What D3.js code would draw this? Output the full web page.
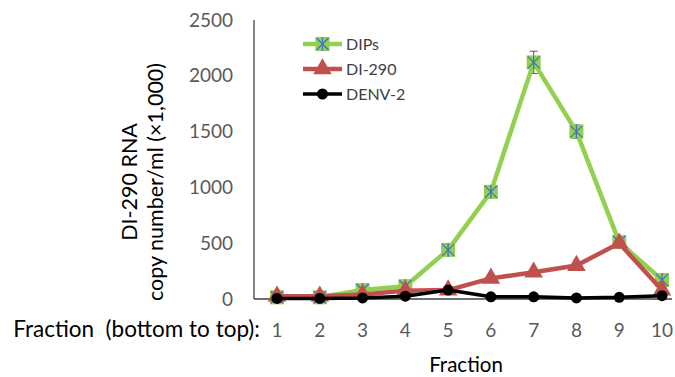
<!DOCTYPE html>
<html>
<head>
<meta charset="utf-8">
<script src="https://cdn.jsdelivr.net/npm/d3@7"></script>
<style>
  body { margin: 0; background: #fff; }
  text { font-family: Lato, "Open Sans", sans-serif; }
</style>
</head>
<body>
<div id="chart"></div>
<script>
// --- data ---
const fractions = [1, 2, 3, 4, 5, 6, 7, 8, 9, 10];
const dips   = [15, 15, 80, 115, 440, 960, 2120, 1500, 510, 170];
const dipsErr = [0, 0, 0, 0, 0, 0, 100, 60, 0, 0];
const di290  = [25, 25, 40, 75, 80, 185, 240, 300, 500, 80];
const denv2  = [5, 5, 10, 25, 80, 20, 20, 10, 15, 30];
const yTicks = [0, 500, 1000, 1500, 2000, 2500];

const W = 675, H = 377;
const margin = { top: 20, left: 254, right: 4, bottom: 78 };

const svg = d3.select('#chart').append('svg')
  .attr('width', W).attr('height', H);

const x = d3.scaleLinear().domain([1, 10]).range([277, 662]);
const y = d3.scaleLinear().domain([0, 2500]).range([299, 20]);

// --- axes ---
const axisColor = '#404040';
svg.append('line')
  .attr('x1', margin.left).attr('x2', margin.left)
  .attr('y1', y(2500)).attr('y2', y(0))
  .attr('stroke', axisColor).attr('stroke-width', 1.3);
svg.append('line')
  .attr('x1', margin.left).attr('x2', 672)
  .attr('y1', y(0)).attr('y2', y(0))
  .attr('stroke', axisColor).attr('stroke-width', 1.3);

svg.append('g').selectAll('text')
  .data(yTicks)
  .enter().append('text')
  .attr('x', 233)
  .attr('y', d => y(d))
  .attr('dy', '0.35em')
  .attr('text-anchor', 'end')
  .attr('fill', '#595959')
  .style('font-size', '19px')
  .text(d => d);

svg.append('g').selectAll('text')
  .data(fractions)
  .enter().append('text')
  .attr('x', d => x(d))
  .attr('y', 337)
  .attr('text-anchor', 'middle')
  .attr('fill', '#595959')
  .style('font-size', '19px')
  .text(d => d);

svg.append('text')
  .attr('x', 260).attr('y', 337)
  .attr('text-anchor', 'end')
  .attr('fill', '#000')
  .style('font-size', '22.5px')
  .text('Fraction\u00a0 (bottom to top):');

svg.append('text')
  .attr('x', 466).attr('y', 372)
  .attr('text-anchor', 'middle')
  .attr('fill', '#000')
  .style('font-size', '20.5px')
  .text('Fraction');

// y title, two lines
const yTitle = svg.append('text')
  .attr('transform', 'translate(0,182) rotate(-90)')
  .attr('text-anchor', 'middle')
  .attr('fill', '#000')
  .style('font-size', '21.5px');
yTitle.append('tspan').attr('x', 0).attr('y', 137).text('DI-290 RNA');
yTitle.append('tspan').attr('x', 0).attr('y', 163).text('copy number/ml (\u00d71,000)');

// --- series ---
const line = d3.line().x((d, i) => x(fractions[i])).y(d => y(d));

const series = [
  { name: 'DIPs', values: dips, color: '#92D050', width: 4.5, marker: 'xsq' },
  { name: 'DI-290', values: di290, color: '#C0504D', width: 4.5, marker: 'tri' },
  { name: 'DENV-2', values: denv2, color: '#000000', width: 3.5, marker: 'dot' }
];

function drawMarker(g, type, cx, cy) {
  if (type === 'xsq') {
    g.append('rect')
      .attr('x', cx - 7).attr('y', cy - 7)
      .attr('width', 14).attr('height', 14)
      .attr('fill', '#92D050');
    const p = d3.path();
    p.moveTo(cx - 6, cy - 6); p.lineTo(cx + 6, cy + 6);
    p.moveTo(cx + 6, cy - 6); p.lineTo(cx - 6, cy + 6);
    p.moveTo(cx, cy - 7); p.lineTo(cx, cy + 7);
    g.append('path').attr('d', p.toString())
      .attr('stroke', '#4472C4').attr('stroke-width', 1.3).attr('fill', 'none');
  } else if (type === 'tri') {
    g.append('path')
      .attr('d', d3.symbol(d3.symbolTriangle, 150)())
      .attr('transform', `translate(${cx},${cy})`)
      .attr('fill', '#C0504D');
  } else {
    g.append('circle')
      .attr('cx', cx).attr('cy', cy).attr('r', 5.5)
      .attr('fill', '#000');
  }
}

// error bars for DIPs
const errG = svg.append('g');
dips.forEach((v, i) => {
  if (!dipsErr[i]) return;
  const cx = x(fractions[i]);
  errG.append('line')
    .attr('x1', cx).attr('x2', cx)
    .attr('y1', y(v + dipsErr[i])).attr('y2', y(v - dipsErr[i]))
    .attr('stroke', '#595959').attr('stroke-width', 1);
  [v + dipsErr[i], v - dipsErr[i]].forEach(e => {
    errG.append('line')
      .attr('x1', cx - 4).attr('x2', cx + 4)
      .attr('y1', y(e)).attr('y2', y(e))
      .attr('stroke', '#595959').attr('stroke-width', 1);
  });
});

series.forEach(s => {
  const g = svg.append('g');
  g.append('path')
    .attr('d', line(s.values))
    .attr('fill', 'none')
    .attr('stroke', s.color)
    .attr('stroke-width', s.width)
    .attr('stroke-linejoin', 'round');
  s.values.forEach((v, i) => drawMarker(g, s.marker, x(fractions[i]), y(v)));
});

// --- legend ---
const legend = svg.append('g');
series.forEach((s, i) => {
  const ly = 44 + i * 25;
  legend.append('line')
    .attr('x1', 303).attr('x2', 342)
    .attr('y1', ly).attr('y2', ly)
    .attr('stroke', s.color).attr('stroke-width', s.width);
  drawMarker(legend, s.marker, 322.5, ly);
  legend.append('text')
    .attr('x', 346).attr('y', ly)
    .attr('dy', '0.35em')
    .attr('fill', '#404040')
    .style('font-size', '16px')
    .text(s.name);
});
</script>
</body>
</html>
